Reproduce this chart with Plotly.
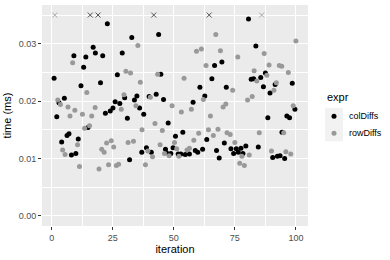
import plotly.graph_objects as go

# ---- data ----
col_iter = [1.0, 2.1, 3.0, 4.1, 5.2, 6.3, 7.1, 8.1, 9.1, 9.9, 10.9, 12.0, 13.1, 14.0, 14.9,
            17.0, 17.9,
            20.0, 20.9, 22.0, 22.8, 24.0, 25.1, 26.0, 26.9, 27.9, 28.9, 29.9, 31.0, 31.9, 32.8,
            33.9, 34.9, 36.0, 36.9, 37.7, 38.8, 39.9, 40.8,
            42.8, 43.8, 44.7, 45.8, 46.6, 47.0, 47.7, 48.8, 49.7, 50.7, 51.8, 52.9, 53.7, 54.7,
            56.4, 57.9, 58.8, 59.8, 60.7, 61.8, 62.7, 63.5,
            65.6, 66.7, 67.5, 68.6, 69.7, 70.7, 71.5, 73.4, 74.5, 75.6, 76.4, 77.5, 78.3, 79.5,
            80.6, 81.7, 82.7, 83.6, 84.6, 85.6, 86.7, 87.5, 88.5, 89.4, 90.5, 91.5, 92.4, 93.5,
            94.3, 95.4, 96.3, 97.4, 98.5, 99.6]
col_time = [0.0240, 0.0173, 0.0197, 0.0129, 0.0205, 0.0140, 0.0143, 0.0106, 0.0279, 0.0109,
            0.0134, 0.0227, 0.0259, 0.0277, 0.0154,
            0.0294, 0.0284,
            0.0232, 0.0279, 0.0179, 0.0335, 0.0183, 0.0188, 0.0199, 0.0246, 0.0196, 0.0284,
            0.0206, 0.0170, 0.0098, 0.0311, 0.0202, 0.0209, 0.0188, 0.0111, 0.0177, 0.0119,
            0.0208, 0.0111,
            0.0212, 0.0316, 0.0247, 0.0203, 0.0116, 0.0110, 0.0162, 0.0109, 0.0119, 0.0139,
            0.0108, 0.0108, 0.0146, 0.0107, 0.0108, 0.0198, 0.0114, 0.0111, 0.0224, 0.0116,
            0.0209, 0.0133,
            0.0239, 0.0262, 0.0114, 0.0101, 0.0268, 0.0127, 0.0224, 0.0117, 0.0109, 0.0117,
            0.0111, 0.0118, 0.0109, 0.0122, 0.0343, 0.0238, 0.0239, 0.0296, 0.0120, 0.0241,
            0.0225, 0.0249, 0.0171, 0.0214, 0.0102, 0.0229, 0.0104, 0.0105, 0.0146, 0.0100,
            0.0174, 0.0171, 0.0231, 0.0186]

row_iter = [2.5, 3.6, 4.5, 5.5, 6.7, 7.5, 8.6, 9.5, 10.6, 11.4, 12.6, 13.5, 14.4, 15.5,
            16.4, 17.8, 19.4, 20.5, 21.5, 22.5, 23.3, 24.4, 25.4, 26.5, 27.4, 28.5, 29.6,
            30.4, 31.3, 32.3, 33.5, 34.5, 35.3, 36.3, 37.0, 38.4, 39.4, 40.4, 41.3, 42.3,
            43.4, 44.4, 45.3, 46.2, 48.1, 49.3, 50.3, 51.2, 52.1, 53.1, 54.2, 55.4, 56.4,
            57.2, 58.2, 59.3, 60.2, 61.3, 62.1, 63.2, 64.2, 65.0, 66.2, 67.2, 68.1, 69.1,
            70.2, 71.3, 71.8, 73.1, 74.1, 75.0, 76.2, 77.0, 77.9, 78.9, 80.2, 80.9, 82.1,
            82.9, 84.0, 85.0, 87.0, 88.1, 89.0, 90.0, 91.0, 92.0, 93.2, 94.2, 95.0, 95.9,
            96.9, 97.9, 98.9, 100.0]
row_time = [0.0202, 0.0194, 0.0115, 0.0107, 0.0190, 0.0174, 0.0267, 0.0184, 0.0124, 0.0086,
            0.0177, 0.0153, 0.0215, 0.0157, 0.0174, 0.0189, 0.0082, 0.0116, 0.0111, 0.0127,
            0.0089, 0.0131, 0.0120, 0.0088, 0.0090, 0.0186, 0.0211, 0.0252, 0.0128, 0.0249,
            0.0130, 0.0192, 0.0297, 0.0233, 0.0150, 0.0089, 0.0113, 0.0207, 0.0103, 0.0161,
            0.0247, 0.0124, 0.0149, 0.0109, 0.0105, 0.0192, 0.0128, 0.0117, 0.0104, 0.0181,
            0.0240, 0.0115, 0.0118, 0.0186, 0.0132, 0.0287, 0.0144, 0.0291, 0.0203, 0.0262,
            0.0150, 0.0174, 0.0140, 0.0316, 0.0151, 0.0288, 0.0190, 0.0195, 0.0145, 0.0142,
            0.0219, 0.0128, 0.0277, 0.0092, 0.0104, 0.0088, 0.0202, 0.0106, 0.0208, 0.0253,
            0.0235, 0.0145, 0.0283, 0.0245, 0.0263, 0.0113, 0.0219, 0.0232, 0.0262, 0.0261,
            0.0145, 0.0112, 0.0250, 0.0108, 0.0192, 0.0305]

# values beyond the cap, drawn as crosses at the cap
col_out_iter = [15.8, 19.0, 41.8, 64.5]
col_out_time = [0.035, 0.035, 0.035, 0.035]
row_out_iter = [1.3, 86.0]
row_out_time = [0.035, 0.035]

x_ticks = [0, 25, 50, 75, 100]
y_ticks = [0.00, 0.01, 0.02, 0.03]
series_names = ["colDiffs", "rowDiffs"]
legend_title = "expr"
colors = ["#000000", "#999999"]

FONT = "Liberation Sans, Arial, sans-serif"

fig = go.Figure()
for name, xs, ys, c in [(series_names[0], col_iter, col_time, colors[0]),
                        (series_names[1], row_iter, row_time, colors[1])]:
    fig.add_trace(go.Scatter(x=xs, y=ys, mode="markers", name=name, showlegend=False,
                             marker=dict(color=c, size=5, symbol="circle", line=dict(width=0))))
for xs, ys, c in [(col_out_iter, col_out_time, "#555555"),
                  (row_out_iter, row_out_time, "#aaaaaa")]:
    fig.add_trace(go.Scatter(x=xs, y=ys, mode="markers", showlegend=False,
                             marker=dict(symbol="x-thin-open", size=5, color=c,
                                         line=dict(width=1, color=c))))

L, R, T, B = 42, 82, 4.5, 34.2
W, H = 390, 260
pw, ph = W - L - R, H - T - B

def px2paper_x(px):
    return (px - L) / pw

def px2paper_y(py):
    return (H - B - py) / ph

# ---- legend (ggplot-style guide) ----
fig.add_shape(type="rect", xref="paper", yref="paper",
              x0=px2paper_x(325), x1=px2paper_x(343),
              y0=px2paper_y(141), y1=px2paper_y(107.5),
              fillcolor="#f2f2f2", line=dict(width=0), layer="below")
fig.add_annotation(text=legend_title, xref="paper", yref="paper",
                   x=px2paper_x(324.5), y=px2paper_y(97), xanchor="left", yanchor="middle",
                   showarrow=False, font=dict(size=11, color="#000000"))
key_y = [115.8, 132.8]
for name, c, ky in zip(series_names, colors, key_y):
    fig.add_shape(type="circle", xref="paper", yref="paper",
                  xsizemode="pixel", ysizemode="pixel",
                  xanchor=px2paper_x(334), yanchor=px2paper_y(ky),
                  x0=-2.5, x1=2.5, y0=-2.5, y1=2.5,
                  fillcolor=c, line=dict(width=0))
    fig.add_annotation(text=name, xref="paper", yref="paper",
                       x=px2paper_x(347), y=px2paper_y(ky), xanchor="left", yanchor="middle",
                       showarrow=False, font=dict(size=9, color="#000000"))

fig.update_layout(
    width=W, height=H,
    margin=dict(l=L, r=R, t=T, b=B),
    paper_bgcolor="white", plot_bgcolor="#ebebeb",
    font=dict(family=FONT, size=9, color="#4d4d4d"),
    showlegend=False,
    xaxis=dict(range=[-3.95, 104.95], tickvals=x_ticks, ticktext=[str(v) for v in x_ticks],
               showgrid=True, gridcolor="white", gridwidth=1.07, zeroline=False,
               ticks="outside", ticklen=3, tickcolor="#333333", tickwidth=1,
               tickfont=dict(size=9, color="#4d4d4d"),
               minor=dict(tickvals=[12.5, 37.5, 62.5, 87.5], showgrid=True,
                          gridcolor="white", gridwidth=0.53, ticks=""),
               title=dict(text="iteration", font=dict(size=11, color="#000000"), standoff=2),
               automargin=False, showline=False),
    yaxis=dict(range=[-0.00175, 0.03675], tickvals=y_ticks,
               ticktext=["%.2f" % v for v in y_ticks],
               showgrid=True, gridcolor="white", gridwidth=1.07, zeroline=False,
               ticks="outside", ticklen=3, tickcolor="#333333", tickwidth=1,
               tickfont=dict(size=9, color="#4d4d4d"),
               minor=dict(tickvals=[0.005, 0.015, 0.025, 0.035], showgrid=True,
                          gridcolor="white", gridwidth=0.53, ticks=""),
               title=dict(text="time (ms)", font=dict(size=11, color="#000000"), standoff=4),
               automargin=False, showline=False),
)

fig.write_html("out.html")
